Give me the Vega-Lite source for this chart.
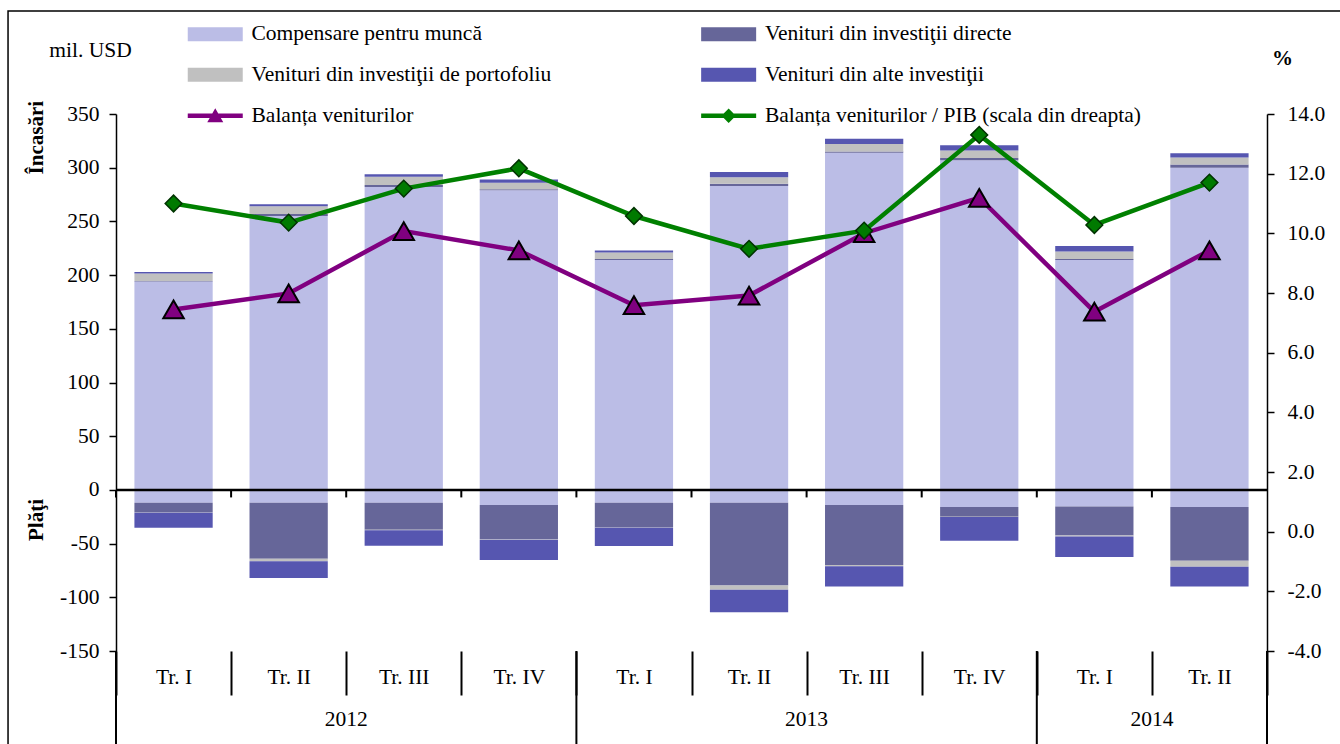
{
  "$schema": "https://vega.github.io/schema/vega-lite/v6.json",
  "autosize": {"type": "none"},
  "padding": {"left": 116, "top": 114, "right": 73, "bottom": 93},
  "width": 1151,
  "height": 537,
  "background": "white",
  "config": {
    "font": "Liberation Serif",
    "view": {"stroke": null},
    "axis": {"labelFont": "Liberation Serif", "labelFontSize": 21.5, "labelColor": "black", "titleFont": "Liberation Serif", "titleColor": "black", "domainColor": "black", "tickColor": "black", "grid": false},
    "text": {"font": "Liberation Serif", "fontSize": 21.5, "color": "black"},
    "legend": {"labelFont": "Liberation Serif"}
  },
  "datasets": {
    "bars": [
      {"q": "2012 Tr. I", "series": "Compensare pentru muncă", "k": 1, "v": 194},
      {"q": "2012 Tr. I", "series": "Venituri din investiţii directe", "k": 2, "v": 0.5},
      {"q": "2012 Tr. I", "series": "Venituri din investiţii de portofoliu", "k": 3, "v": 7},
      {"q": "2012 Tr. I", "series": "Venituri din alte investiţii", "k": 4, "v": 1.5},
      {"q": "2012 Tr. I", "series": "Compensare pentru muncă", "k": 1, "v": -12},
      {"q": "2012 Tr. I", "series": "Venituri din investiţii directe", "k": 2, "v": -9},
      {"q": "2012 Tr. I", "series": "Venituri din investiţii de portofoliu", "k": 3, "v": -0.3},
      {"q": "2012 Tr. I", "series": "Venituri din alte investiţii", "k": 4, "v": -14},

      {"q": "2012 Tr. II", "series": "Compensare pentru muncă", "k": 1, "v": 255},
      {"q": "2012 Tr. II", "series": "Venituri din investiţii directe", "k": 2, "v": 2},
      {"q": "2012 Tr. II", "series": "Venituri din investiţii de portofoliu", "k": 3, "v": 7},
      {"q": "2012 Tr. II", "series": "Venituri din alte investiţii", "k": 4, "v": 2},
      {"q": "2012 Tr. II", "series": "Compensare pentru muncă", "k": 1, "v": -12},
      {"q": "2012 Tr. II", "series": "Venituri din investiţii directe", "k": 2, "v": -52},
      {"q": "2012 Tr. II", "series": "Venituri din investiţii de portofoliu", "k": 3, "v": -2.5},
      {"q": "2012 Tr. II", "series": "Venituri din alte investiţii", "k": 4, "v": -15.5},

      {"q": "2012 Tr. III", "series": "Compensare pentru muncă", "k": 1, "v": 282},
      {"q": "2012 Tr. III", "series": "Venituri din investiţii directe", "k": 2, "v": 2},
      {"q": "2012 Tr. III", "series": "Venituri din investiţii de portofoliu", "k": 3, "v": 7.5},
      {"q": "2012 Tr. III", "series": "Venituri din alte investiţii", "k": 4, "v": 2.5},
      {"q": "2012 Tr. III", "series": "Compensare pentru muncă", "k": 1, "v": -12},
      {"q": "2012 Tr. III", "series": "Venituri din investiţii directe", "k": 2, "v": -25},
      {"q": "2012 Tr. III", "series": "Venituri din investiţii de portofoliu", "k": 3, "v": -0.5},
      {"q": "2012 Tr. III", "series": "Venituri din alte investiţii", "k": 4, "v": -14.5},

      {"q": "2012 Tr. IV", "series": "Compensare pentru muncă", "k": 1, "v": 279},
      {"q": "2012 Tr. IV", "series": "Venituri din investiţii directe", "k": 2, "v": 1},
      {"q": "2012 Tr. IV", "series": "Venituri din investiţii de portofoliu", "k": 3, "v": 6},
      {"q": "2012 Tr. IV", "series": "Venituri din alte investiţii", "k": 4, "v": 3},
      {"q": "2012 Tr. IV", "series": "Compensare pentru muncă", "k": 1, "v": -14},
      {"q": "2012 Tr. IV", "series": "Venituri din investiţii directe", "k": 2, "v": -32},
      {"q": "2012 Tr. IV", "series": "Venituri din investiţii de portofoliu", "k": 3, "v": -0.3},
      {"q": "2012 Tr. IV", "series": "Venituri din alte investiţii", "k": 4, "v": -19},

      {"q": "2013 Tr. I", "series": "Compensare pentru muncă", "k": 1, "v": 214},
      {"q": "2013 Tr. I", "series": "Venituri din investiţii directe", "k": 2, "v": 1},
      {"q": "2013 Tr. I", "series": "Venituri din investiţii de portofoliu", "k": 3, "v": 6},
      {"q": "2013 Tr. I", "series": "Venituri din alte investiţii", "k": 4, "v": 2},
      {"q": "2013 Tr. I", "series": "Compensare pentru muncă", "k": 1, "v": -12},
      {"q": "2013 Tr. I", "series": "Venituri din investiţii directe", "k": 2, "v": -23},
      {"q": "2013 Tr. I", "series": "Venituri din investiţii de portofoliu", "k": 3, "v": -0.3},
      {"q": "2013 Tr. I", "series": "Venituri din alte investiţii", "k": 4, "v": -17},

      {"q": "2013 Tr. II", "series": "Compensare pentru muncă", "k": 1, "v": 283},
      {"q": "2013 Tr. II", "series": "Venituri din investiţii directe", "k": 2, "v": 2},
      {"q": "2013 Tr. II", "series": "Venituri din investiţii de portofoliu", "k": 3, "v": 6},
      {"q": "2013 Tr. II", "series": "Venituri din alte investiţii", "k": 4, "v": 5},
      {"q": "2013 Tr. II", "series": "Compensare pentru muncă", "k": 1, "v": -12},
      {"q": "2013 Tr. II", "series": "Venituri din investiţii directe", "k": 2, "v": -77},
      {"q": "2013 Tr. II", "series": "Venituri din investiţii de portofoliu", "k": 3, "v": -4},
      {"q": "2013 Tr. II", "series": "Venituri din alte investiţii", "k": 4, "v": -21},

      {"q": "2013 Tr. III", "series": "Compensare pentru muncă", "k": 1, "v": 314},
      {"q": "2013 Tr. III", "series": "Venituri din investiţii directe", "k": 2, "v": 1},
      {"q": "2013 Tr. III", "series": "Venituri din investiţii de portofoliu", "k": 3, "v": 7},
      {"q": "2013 Tr. III", "series": "Venituri din alte investiţii", "k": 4, "v": 5},
      {"q": "2013 Tr. III", "series": "Compensare pentru muncă", "k": 1, "v": -14},
      {"q": "2013 Tr. III", "series": "Venituri din investiţii directe", "k": 2, "v": -56},
      {"q": "2013 Tr. III", "series": "Venituri din investiţii de portofoliu", "k": 3, "v": -1},
      {"q": "2013 Tr. III", "series": "Venituri din alte investiţii", "k": 4, "v": -19},

      {"q": "2013 Tr. IV", "series": "Compensare pentru muncă", "k": 1, "v": 307},
      {"q": "2013 Tr. IV", "series": "Venituri din investiţii directe", "k": 2, "v": 2},
      {"q": "2013 Tr. IV", "series": "Venituri din investiţii de portofoliu", "k": 3, "v": 7},
      {"q": "2013 Tr. IV", "series": "Venituri din alte investiţii", "k": 4, "v": 5},
      {"q": "2013 Tr. IV", "series": "Compensare pentru muncă", "k": 1, "v": -16},
      {"q": "2013 Tr. IV", "series": "Venituri din investiţii directe", "k": 2, "v": -9},
      {"q": "2013 Tr. IV", "series": "Venituri din investiţii de portofoliu", "k": 3, "v": -0.3},
      {"q": "2013 Tr. IV", "series": "Venituri din alte investiţii", "k": 4, "v": -22},

      {"q": "2014 Tr. I", "series": "Compensare pentru muncă", "k": 1, "v": 214},
      {"q": "2014 Tr. I", "series": "Venituri din investiţii directe", "k": 2, "v": 1},
      {"q": "2014 Tr. I", "series": "Venituri din investiţii de portofoliu", "k": 3, "v": 7},
      {"q": "2014 Tr. I", "series": "Venituri din alte investiţii", "k": 4, "v": 5},
      {"q": "2014 Tr. I", "series": "Compensare pentru muncă", "k": 1, "v": -15.5},
      {"q": "2014 Tr. I", "series": "Venituri din investiţii directe", "k": 2, "v": -27},
      {"q": "2014 Tr. I", "series": "Venituri din investiţii de portofoliu", "k": 3, "v": -1},
      {"q": "2014 Tr. I", "series": "Venituri din alte investiţii", "k": 4, "v": -19},

      {"q": "2014 Tr. II", "series": "Compensare pentru muncă", "k": 1, "v": 300},
      {"q": "2014 Tr. II", "series": "Venituri din investiţii directe", "k": 2, "v": 3},
      {"q": "2014 Tr. II", "series": "Venituri din investiţii de portofoliu", "k": 3, "v": 6.5},
      {"q": "2014 Tr. II", "series": "Venituri din alte investiţii", "k": 4, "v": 4},
      {"q": "2014 Tr. II", "series": "Compensare pentru muncă", "k": 1, "v": -16},
      {"q": "2014 Tr. II", "series": "Venituri din investiţii directe", "k": 2, "v": -50},
      {"q": "2014 Tr. II", "series": "Venituri din investiţii de portofoliu", "k": 3, "v": -5.5},
      {"q": "2014 Tr. II", "series": "Venituri din alte investiţii", "k": 4, "v": -18.5}
    ],
    "bal": [
      {"q": "2012 Tr. I", "series": "Balanța veniturilor", "v": 168},
      {"q": "2012 Tr. II", "series": "Balanța veniturilor", "v": 183},
      {"q": "2012 Tr. III", "series": "Balanța veniturilor", "v": 241},
      {"q": "2012 Tr. IV", "series": "Balanța veniturilor", "v": 223},
      {"q": "2013 Tr. I", "series": "Balanța veniturilor", "v": 172},
      {"q": "2013 Tr. II", "series": "Balanța veniturilor", "v": 181},
      {"q": "2013 Tr. III", "series": "Balanța veniturilor", "v": 239},
      {"q": "2013 Tr. IV", "series": "Balanța veniturilor", "v": 272},
      {"q": "2014 Tr. I", "series": "Balanța veniturilor", "v": 166},
      {"q": "2014 Tr. II", "series": "Balanța veniturilor", "v": 223}
    ],
    "pct": [
      {"q": "2012 Tr. I", "series": "Balanța veniturilor / PIB (scala din dreapta)", "v": 11.0},
      {"q": "2012 Tr. II", "series": "Balanța veniturilor / PIB (scala din dreapta)", "v": 10.36},
      {"q": "2012 Tr. III", "series": "Balanța veniturilor / PIB (scala din dreapta)", "v": 11.5},
      {"q": "2012 Tr. IV", "series": "Balanța veniturilor / PIB (scala din dreapta)", "v": 12.18},
      {"q": "2013 Tr. I", "series": "Balanța veniturilor / PIB (scala din dreapta)", "v": 10.58},
      {"q": "2013 Tr. II", "series": "Balanța veniturilor / PIB (scala din dreapta)", "v": 9.48},
      {"q": "2013 Tr. III", "series": "Balanța veniturilor / PIB (scala din dreapta)", "v": 10.09},
      {"q": "2013 Tr. IV", "series": "Balanța veniturilor / PIB (scala din dreapta)", "v": 13.3},
      {"q": "2014 Tr. I", "series": "Balanța veniturilor / PIB (scala din dreapta)", "v": 10.28},
      {"q": "2014 Tr. II", "series": "Balanța veniturilor / PIB (scala din dreapta)", "v": 11.7}
    ],
    "years": [
      {"q": "2012 Tr. III", "year": "2012"},
      {"q": "2013 Tr. III", "year": "2013"},
      {"q": "2014 Tr. II", "year": "2014"}
    ],
    "seps": [
      {"q": "2012 Tr. I"},
      {"q": "2013 Tr. I"},
      {"q": "2014 Tr. I"}
    ],
    "last": [
      {"q": "2014 Tr. II"}
    ],
    "frame": [
      {"q": "2012 Tr. I", "q2": "2014 Tr. II"}
    ],
    "sides": [
      {"q": "2012 Tr. I", "label": "Încasări", "y": 328},
      {"q": "2012 Tr. I", "label": "Plăţi", "y": -28}
    ]
  },
  "layer": [
    {
      "layer": [
        {
          "data": {"name": "bars"},
          "mark": {"type": "bar", "width": {"band": 0.68}},
          "encoding": {
            "x": {
              "field": "q", "type": "nominal",
              "scale": {"domain": ["2012 Tr. I", "2012 Tr. II", "2012 Tr. III", "2012 Tr. IV", "2013 Tr. I", "2013 Tr. II", "2013 Tr. III", "2013 Tr. IV", "2014 Tr. I", "2014 Tr. II"], "paddingInner": 0, "paddingOuter": 0},
              "axis": {"title": null, "domain": false, "ticks": true, "tickBand": "extent", "tickSize": 44, "tickWidth": 2, "labelAngle": 0, "labelAlign": "center", "labelPadding": -29, "labelBaseline": "top", "labelExpr": "substring(datum.label, 5)"}
            },
            "y": {
              "field": "v", "type": "quantitative",
              "scale": {"domain": [-150, 350], "nice": false, "zero": false},
              "axis": {"values": [-150, -100, -50, 0, 50, 100, 150, 200, 250, 300, 350], "tickSize": 7, "tickWidth": 1.5, "domainWidth": 1.5, "labelPadding": 10, "labelExpr": "replace(datum.label, '−', '-')", "title": "mil. USD", "titleAngle": 0, "titleX": -26, "titleY": -64, "titleAlign": "center", "titleBaseline": "middle", "titleFontWeight": "normal", "titleFontSize": 21.5}
            },
            "color": {
              "field": "series", "type": "nominal",
              "scale": {
                "domain": ["Compensare pentru muncă", "Venituri din investiţii directe", "Venituri din investiţii de portofoliu", "Venituri din alte investiţii", "Balanța veniturilor", "Balanța veniturilor / PIB (scala din dreapta)"],
                "range": ["#bbbde6", "#666699", "#c0c0c0", "#5656b0", "#800080", "#008000"]
              },
              "legend": {
                "title": null, "orient": "none", "legendX": 88.5, "legendY": -91, "columns": 2, "direction": "horizontal",
                "columnPadding": 149.4, "rowPadding": 18, "padding": 0,
                "symbolSize": 400, "symbolStrokeWidth": 0, "labelOffset": 25.5, "labelFontSize": 21.5, "labelColor": "black", "labelLimit": 800,
                "encode": {
                  "symbols": {
                    "update": {
                      "shape": {"signal": "datum.value === 'Balanța veniturilor' ? 'M-2.75,-0.22H2.75V0.22H-2.75Z M-0.8,0.65L0,-0.75L0.8,0.65Z' : (datum.value === 'Balanța veniturilor / PIB (scala din dreapta)' ? 'M-2.75,-0.22H2.75V0.22H-2.75Z M0,-0.72L0.72,0L0,0.72L-0.72,0Z' : 'M-2.75,-0.7H2.75V0.7H-2.75Z')"},
                      "fill": {"scale": "color", "field": "value"},
                      "stroke": {"value": "transparent"},
                      "strokeWidth": {"value": 0},
                      "opacity": {"value": 1}
                    }
                  }
                }
              }
            },
            "order": {"field": "k", "type": "quantitative"}
          }
        },
        {
          "data": {"name": "frame"},
          "mark": {"type": "rect", "filled": false, "fill": null, "stroke": "black", "strokeWidth": 1.5},
          "encoding": {
            "x": {"field": "q", "type": "nominal", "bandPosition": -0.938},
            "x2": {"field": "q2", "bandPosition": 1.69},
            "y": {"datum": 445.9},
            "y2": {"datum": -260}
          }
        },
        {
          "data": {"name": "bal"},
          "mark": {"type": "rule", "color": "black", "strokeWidth": 2},
          "encoding": {
            "x": {"field": "q", "type": "nominal", "bandPosition": 0},
            "y": {"datum": 0},
            "y2": {"datum": -7}
          }
        },
        {
          "data": {"values": [{}]},
          "mark": {"type": "rule", "color": "black", "strokeWidth": 2.5},
          "encoding": {"y": {"datum": 0}}
        },
        {
          "data": {"name": "seps"},
          "mark": {"type": "rule", "color": "black", "strokeWidth": 2},
          "encoding": {
            "x": {"field": "q", "type": "nominal", "bandPosition": 0},
            "y": {"datum": -150},
            "y2": {"datum": -250}
          }
        },
        {
          "data": {"name": "last"},
          "mark": {"type": "rule", "color": "black", "strokeWidth": 2},
          "encoding": {
            "x": {"field": "q", "type": "nominal", "bandPosition": 1},
            "y": {"datum": -150},
            "y2": {"datum": -250}
          }
        },
        {
          "data": {"name": "years"},
          "mark": {"type": "text", "fontSize": 21.5, "baseline": "middle", "align": "center"},
          "encoding": {
            "x": {"field": "q", "type": "nominal", "bandPosition": 0},
            "y": {"datum": -214},
            "text": {"field": "year"}
          }
        },
        {
          "data": {"name": "sides"},
          "mark": {"type": "text", "fontSize": 21, "fontWeight": "bold", "angle": 270, "baseline": "middle", "align": "center", "dy": -79},
          "encoding": {
            "x": {"field": "q", "type": "nominal", "bandPosition": 0},
            "y": {"field": "y", "type": "quantitative"},
            "text": {"field": "label"}
          }
        },
        {
          "data": {"name": "bal"},
          "mark": {"type": "line", "strokeWidth": 4.5},
          "encoding": {
            "x": {"field": "q", "type": "nominal"},
            "y": {"field": "v", "type": "quantitative"},
            "color": {"field": "series", "type": "nominal"}
          }
        },
        {
          "data": {"name": "bal"},
          "mark": {"type": "point", "shape": "triangle-up", "filled": true, "fill": "#800080", "stroke": "black", "strokeWidth": 2, "size": 420, "opacity": 1},
          "encoding": {
            "x": {"field": "q", "type": "nominal"},
            "y": {"field": "v", "type": "quantitative"}
          }
        }
      ]
    },
    {
      "layer": [
        {
          "data": {"name": "pct"},
          "mark": {"type": "line", "strokeWidth": 4.5},
          "encoding": {
            "x": {"field": "q", "type": "nominal"},
            "y": {
              "field": "v", "type": "quantitative",
              "scale": {"domain": [-4, 14], "nice": false, "zero": false},
              "axis": {"orient": "right", "values": [-4, -2, 0, 2, 4, 6, 8, 10, 12, 14], "format": ".1f", "labelExpr": "replace(datum.label, '−', '-')", "tickSize": 7, "tickWidth": 1.5, "domainWidth": 1.5, "labelPadding": 13, "title": "%", "titleAngle": 0, "titleX": 15, "titleY": -56, "titleAlign": "center", "titleBaseline": "middle", "titleFontWeight": "bold", "titleFontSize": 21}
            },
            "color": {"field": "series", "type": "nominal"}
          }
        },
        {
          "data": {"name": "pct"},
          "mark": {"type": "point", "shape": "diamond", "filled": true, "fill": "#007a00", "stroke": "#003300", "strokeWidth": 1.5, "size": 280, "opacity": 1},
          "encoding": {
            "x": {"field": "q", "type": "nominal"},
            "y": {"field": "v", "type": "quantitative"}
          }
        }
      ]
    }
  ],
  "resolve": {"scale": {"y": "independent"}}
}
